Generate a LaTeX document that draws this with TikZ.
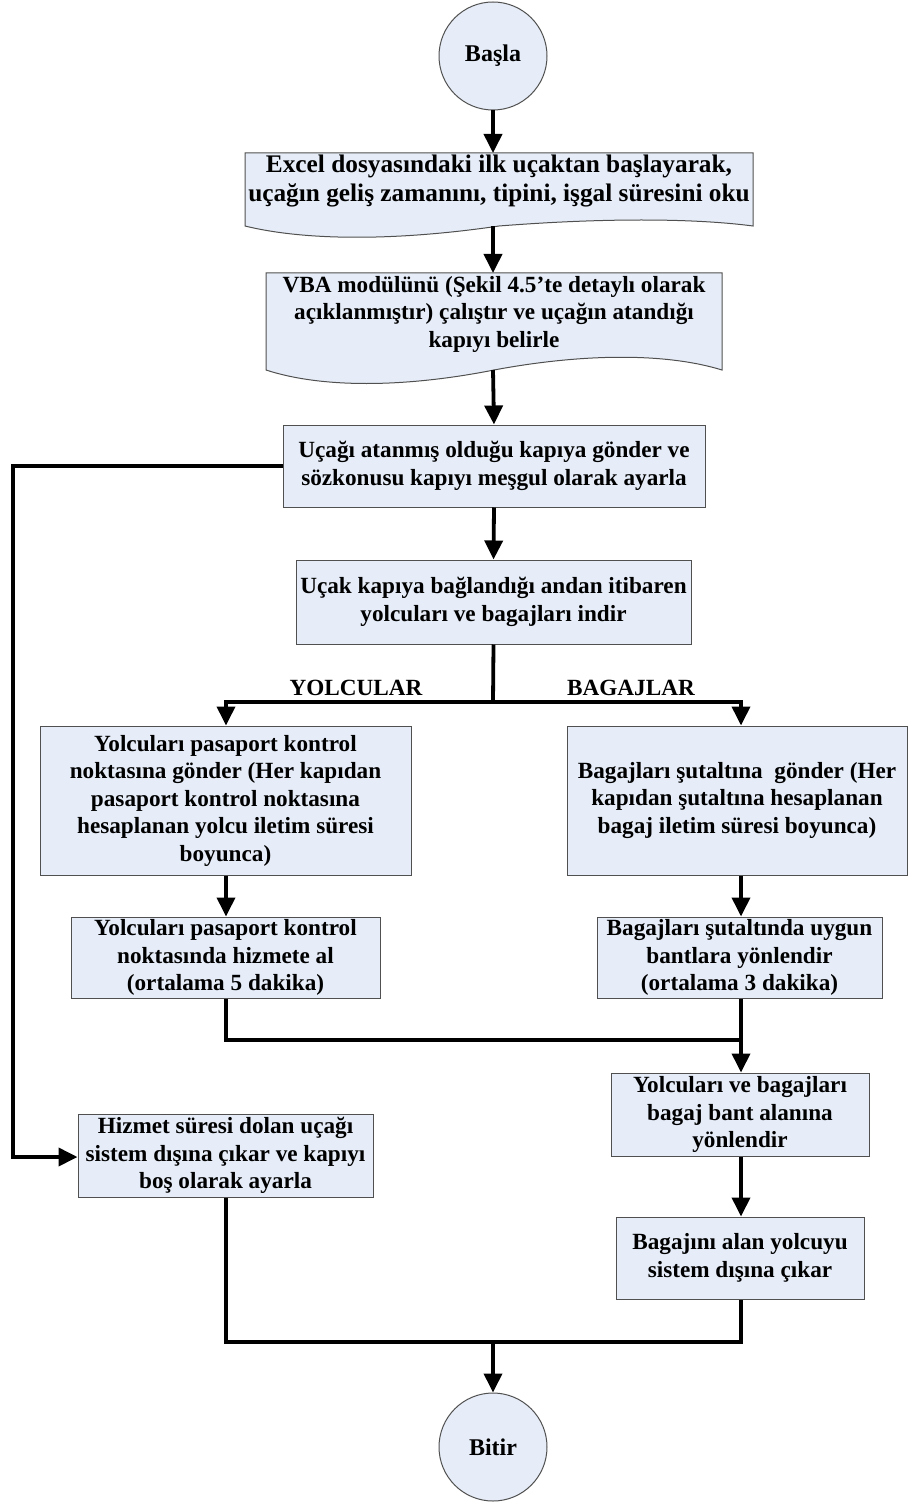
\documentclass[tikz,border=0pt]{standalone}
\usepackage{fontspec}
\setmainfont{Liberation Serif}
\usetikzlibrary{arrows.meta}
\definecolor{boxfill}{HTML}{E6EDF8}
\definecolor{boxline}{HTML}{505050}
\tikzset{
  x=1pt, y=-1pt,
  lbl/.style={inner sep=0pt, align=center, font=\fontsize{23.2}{27.5}\selectfont\bfseries},
  flowbox/.style={lbl, draw=boxline, line width=1pt, fill=boxfill},
  docshape/.style={draw=boxline, line width=1pt, fill=boxfill},
  term/.style={lbl, circle, draw=boxline, line width=1pt, fill=boxfill, minimum size=108pt, font=\fontsize{24}{27.5}\selectfont\bfseries},
  wire/.style={line width=3.8pt, line join=miter},
  conn/.style={wire, -{Triangle[length=19pt,width=18pt]}},
}
\begin{document}
\begin{tikzpicture}
\useasboundingbox (0,0) rectangle (909,1503);

% terminals
\node[term] (start) at (493,56) {Başla};
\node[term] (stop) at (493,1447) {Bitir};

% document 1
\path[docshape] (245,153) -- (753,153) -- (753,226) .. controls (692,218) and (601,218) .. (499,226) .. controls (397,241) and (306,241) .. (245,226) -- cycle;
\coordinate (d1t) at (493,153);
\coordinate (d1b) at (493,226.5);
\node[lbl, font=\fontsize{25.3}{29.5}\selectfont\bfseries] (doc1) at (499,181) {Excel dosyasındaki ilk uçaktan başlayarak,\\uçağın geliş zamanını, tipini, işgal süresini oku};

% document 2
\path[docshape] (266,273) -- (722,273) -- (722,370) .. controls (667,353) and (585,353) .. (494,370) .. controls (403,388) and (321,388) .. (266,370) -- cycle;
\coordinate (d2t) at (493,273);
\coordinate (d2b) at (493,370);
\node[lbl] (doc2) at (494,314) {VBA modülünü (Şekil 4.5'te detaylı olarak\\açıklanmıştır) çalıştır ve uçağın atandığı\\kapıyı belirle};

% process boxes
\node[flowbox, minimum width=422pt, minimum height=82pt] (b3) at (494,466) {Uçağı atanmış olduğu kapıya gönder ve\\sözkonusu kapıyı meşgul olarak ayarla};
\node[flowbox, minimum width=395pt, minimum height=84pt] (b4) at (493.5,602) {Uçak kapıya bağlandığı andan itibaren\\yolcuları ve bagajları indir};
\node[flowbox, minimum width=371pt, minimum height=149pt] (b5l) at (225.5,800.5) {Yolcuları pasaport kontrol\\noktasına gönder (Her kapıdan\\pasaport kontrol noktasına\\hesaplanan yolcu iletim süresi\\boyunca)};
\node[flowbox, minimum width=340pt, minimum height=149pt] (b5r) at (737,800.5) {Bagajları şutaltına\ \ gönder (Her\\kapıdan şutaltına hesaplanan\\bagaj iletim süresi boyunca)};
\node[flowbox, minimum width=309pt, minimum height=81pt] (b6l) at (225.5,957.5) {Yolcuları pasaport kontrol\\noktasında hizmete al\\(ortalama 5 dakika)};
\node[flowbox, minimum width=285pt, minimum height=81pt] (b6r) at (739.5,957.5) {Bagajları şutaltında uygun\\bantlara yönlendir\\(ortalama 3 dakika)};
\node[flowbox, minimum width=258pt, minimum height=83pt] (b7) at (740,1114.5) {Yolcuları ve bagajları\\bagaj bant alanına\\yönlendir};
\node[flowbox, minimum width=248pt, minimum height=82pt] (b8) at (740,1258) {Bagajını alan yolcuyu\\sistem dışına çıkar};
\node[flowbox, minimum width=295pt, minimum height=83pt] (b9) at (225.5,1155.5) {Hizmet süresi dolan uçağı\\sistem dışına çıkar ve kapıyı\\boş olarak ayarla};

% branch labels
\node[lbl] (ly) at (356,688) {YOLCULAR};
\node[lbl] (lb) at (631,688) {BAGAJLAR};

% helper coordinates
\coordinate (split) at (493,702);
\coordinate (splitL) at (226,702);
\coordinate (splitR) at (741,702);
\coordinate (mergeL) at (226,1040);
\coordinate (mergeR) at (741,1040);
\coordinate (fbTop) at (13,466);
\coordinate (fbBot) at (13,1157);
\coordinate (endL) at (226,1342);
\coordinate (endR) at (741,1342);
\coordinate (endM) at (493,1342);

% connectors
\draw[conn] (start.south) -- (d1t);
\draw[conn] (d1b) -- (d2t);
\draw[conn] (d2b) -- (b3.north);
\draw[conn] (b3.south) -- (b4.north);
\draw[wire] (b4.south) -- (split);
\draw[conn] (split) -- (splitL) -- (splitL |- b5l.north);
\draw[conn] (split) -- (splitR) -- (splitR |- b5r.north);
\draw[conn] (b5l.south -| splitL) -- (b6l.north -| splitL);
\draw[conn] (b5r.south -| splitR) -- (b6r.north -| splitR);
\draw[wire] (b6l.south -| mergeL) -- (mergeL) -- (mergeR);
\draw[conn] (b6r.south -| mergeR) -- (b7.north -| mergeR);
\draw[conn] (b7.south -| mergeR) -- (b8.north -| mergeR);
\draw[conn] (b3.west) -- (fbTop) -- (fbBot) -- (b9.west |- fbBot);
\draw[wire] (b9.south -| endL) -- (endL) -- (endR) -- (b8.south -| endR);
\draw[conn] (endM) -- (stop.north);
\end{tikzpicture}
\end{document}
